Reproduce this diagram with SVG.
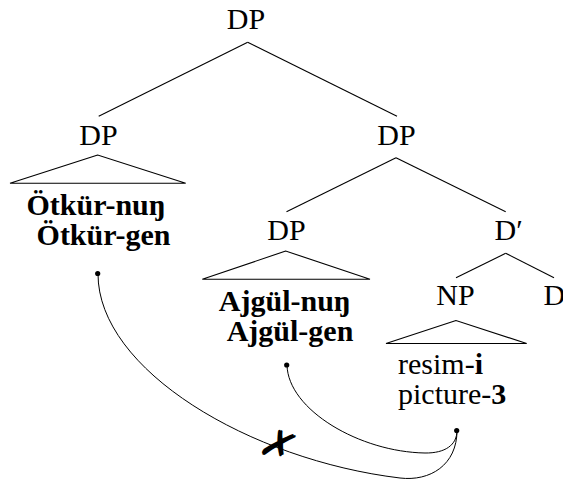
<svg xmlns="http://www.w3.org/2000/svg" width="563" height="480" viewBox="0 0 563 480">
<style>
.t{font-family:'Liberation Serif','Times New Roman','DejaVu Serif',serif;font-size:30px;fill:#000}
.m{text-anchor:middle}
.b{font-weight:bold}
.e{fill:none;stroke:#000;stroke-width:1.1}
.tri{fill:none;stroke:#000;stroke-width:1.1;stroke-linejoin:miter}
.c{fill:none;stroke:#000;stroke-width:1}
.dot{fill:#000}
</style>
<rect width="563" height="480" fill="#fff"/>
<g id="edges">
<line class="e" x1="247.7" y1="42.3" x2="98.7" y2="116.3"/>
<line class="e" x1="247.7" y1="42.3" x2="397" y2="116.3"/>
<line class="e" x1="396" y1="157.7" x2="286.5" y2="211.7"/>
<line class="e" x1="396" y1="157.7" x2="505.7" y2="211.7"/>
<line class="e" x1="505.7" y1="253.3" x2="456" y2="277.7"/>
<line class="e" x1="505.7" y1="253.3" x2="554" y2="277.7"/>
</g>
<g id="n-root"><text class="t m" x="246" y="28.5">DP</text></g>
<g id="n-dp1">
<text class="t m" x="98.5" y="144.5">DP</text>
<polygon class="tri" points="97.7,155 10,183.3 185.7,183.3"/>
<text class="t m b" x="96" y="215">Ötkür-nuŋ</text>
<text class="t m b" x="103.5" y="245">Ötkür-gen</text>
<circle class="dot" cx="97.7" cy="273.5" r="2.6"/>
</g>
<g id="n-dp2"><text class="t m" x="396.5" y="144.5">DP</text></g>
<g id="n-dp3">
<text class="t m" x="286.5" y="240">DP</text>
<polygon class="tri" points="285.7,251 202.3,279.3 370,279.3"/>
<text class="t m b" x="284.7" y="311">Ajgül-nuŋ</text>
<text class="t m b" x="290" y="341">Ajgül-gen</text>
<circle class="dot" cx="286.7" cy="365" r="2.6"/>
</g>
<g id="n-dbar"><text class="t" x="494.5" y="240">D′</text></g>
<g id="n-np">
<text class="t m" x="455.5" y="305">NP</text>
<polygon class="tri" points="456,320.5 386,343.5 526.7,343.5"/>
<text class="t" x="398" y="374">resim-<tspan class="b">i</tspan></text>
<text class="t" x="398" y="404">picture-<tspan class="b">3</tspan></text>
<circle class="dot" cx="456.7" cy="430.5" r="2.6"/>
</g>
<g id="n-d"><text class="t" x="543.5" y="305">D</text></g>
<g id="connectors">
<path class="c" d="M98,274 C98,370 250,460 400,478 C430,481.6 457,465 457,430.5"/>
<path class="c" d="M287,365 C288,410 360,452 425,453 C445,453.3 457,445 457,430.5"/>
<text x="279" y="460" transform="rotate(24 279 445)" font-family="DejaVu Sans, sans-serif" font-size="42" font-weight="bold" text-anchor="middle">✗</text>
</g>
</svg>
